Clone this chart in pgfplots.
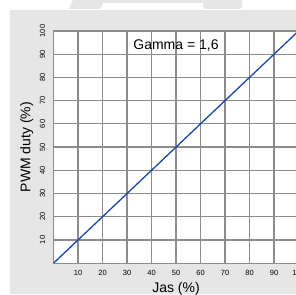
\documentclass[border=0pt]{standalone}
\usepackage{fontspec}
\setmainfont{Liberation Sans}
\usepackage{pgfplots}
\pgfplotsset{compat=1.18}
\definecolor{bgc}{RGB}{230,230,230}
\definecolor{gridc}{RGB}{140,140,140}
\definecolor{linec}{RGB}{26,72,168}
\begin{document}
\begin{tikzpicture}[x=1pt,y=1pt]
\useasboundingbox (0,0) rectangle (296,294);
\fill[white] (0,0) rectangle (296,294);
\fill[bgc] (10,0) rectangle (296,284);
\fill[bgc] (69,285) -- (73,294) -- (203,294) -- (203,291) -- (103,291) -- (100,285) -- cycle;
\fill[bgc, rounded corners=3pt] (203,285) rectangle (242,296);
\begin{axis}[
  at={(53.5pt,30.8pt)}, anchor=south west,
  scale only axis, width=245pt, height=232.2pt,
  xmin=0, xmax=100, ymin=0, ymax=100,
  xtick={10,20,...,100}, ytick={10,20,...,100},
  major tick length=0pt,
  axis background/.style={fill=white},
  grid=major,
  grid style={gridc, line width=1.2pt},
  axis line style={gridc, line width=1.2pt},
  /pgf/number format/assume math mode=true,
  ticklabel style={font=\fontsize{7.5}{8}\selectfont},
  xticklabel style={anchor=center, yshift=-9.5pt},
  yticklabel style={anchor=center, rotate=90, yshift=11pt},
  xlabel={Jas (\%)}, ylabel={PWM duty (\%)},
  label style={font=\fontsize{14}{16}\selectfont},
  xlabel style={at={(axis description cs:0.5,-0.111)}, anchor=center},
  ylabel style={at={(axis description cs:-0.109,0.5)}, anchor=center},
  clip=false,
]
\addplot[linec, line width=1.3pt] coordinates {(0,0) (100,100)};
\node[font=\fontsize{14}{16}\selectfont] at (axis cs:50,93.7) {Gamma = 1,6};
\end{axis}
\end{tikzpicture}
\end{document}
